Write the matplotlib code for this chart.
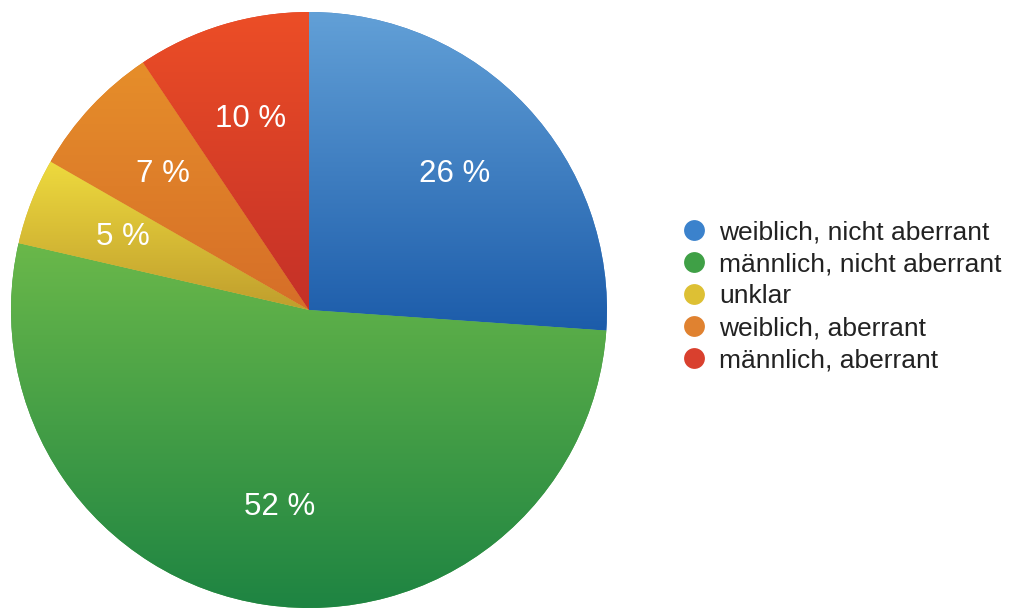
import numpy as np
import matplotlib
matplotlib.use("Agg")
import matplotlib.pyplot as plt
from matplotlib.colors import to_rgb
from matplotlib.lines import Line2D

plt.rcParams['font.family'] = ['Liberation Sans', 'DejaVu Sans']

# data (shares in percent)
categories = ["weiblich, nicht aberrant", "männlich, nicht aberrant", "unklar",
              "weiblich, aberrant", "männlich, aberrant"]
shares = [26.1, 52.5, 4.7, 7.3, 9.4]
pct_labels = ["26 %", "52 %", "5 %", "7 %", "10 %"]

# gradient colours per slice (top, bottom)
top_colors = ["#62A0D7", "#6AB84A", "#EEDA3E", "#E68E2A", "#EC4E26"]
bottom_colors = ["#1C5CAA", "#1E8442", "#C09E2D", "#D66E28", "#C43028"]
legend_colors = ["#3B82CC", "#3FA046", "#DDC034", "#E08230", "#D9402E"]

fig = plt.figure(figsize=(10.1, 6.08), dpi=100)
ax = fig.add_axes([11 / 1010, 0, 596 / 1010, 596 / 608])

mid_colors = [tuple((np.array(to_rgb(t)) + np.array(to_rgb(b))) / 2)
              for t, b in zip(top_colors, bottom_colors)]

wedges, texts = ax.pie(shares, labels=pct_labels, startangle=90, counterclock=False,
                       colors=mid_colors, labeldistance=0.67, radius=1,
                       wedgeprops=dict(linewidth=0),
                       textprops=dict(color="white", fontsize=22.5, ha="center", va="center"))

# vertical gradient inside every slice
for w, tc, bc in zip(wedges, top_colors, bottom_colors):
    bb = w.get_path().get_extents(w.get_patch_transform())
    t = np.linspace(0, 1, 256)[:, None, None]
    grad = (1 - t) * np.array(to_rgb(tc)) + t * np.array(to_rgb(bc))
    im = ax.imshow(grad, extent=[bb.x0, bb.x1, bb.y0, bb.y1], aspect="auto",
                   origin="upper", interpolation="bilinear", zorder=1.5)
    im.set_clip_path(w)

for txt in texts:
    txt.set_zorder(3)

ax.set_xlim(-1, 1)
ax.set_ylim(-1, 1)
ax.set_aspect("equal")
ax.axis("off")

handles = [Line2D([], [], marker="o", linestyle="none", markersize=15,
                  markerfacecolor=c, markeredgewidth=0) for c in legend_colors]
fig.legend(handles, categories, loc="upper left", bbox_to_anchor=(681 / 1010, 1 - 220 / 608),
           frameon=False, fontsize=19, handlelength=1.0, handletextpad=0.45,
           labelspacing=0.31, borderpad=0, borderaxespad=0, labelcolor="#222222")

fig.savefig("out.png", dpi=100)
